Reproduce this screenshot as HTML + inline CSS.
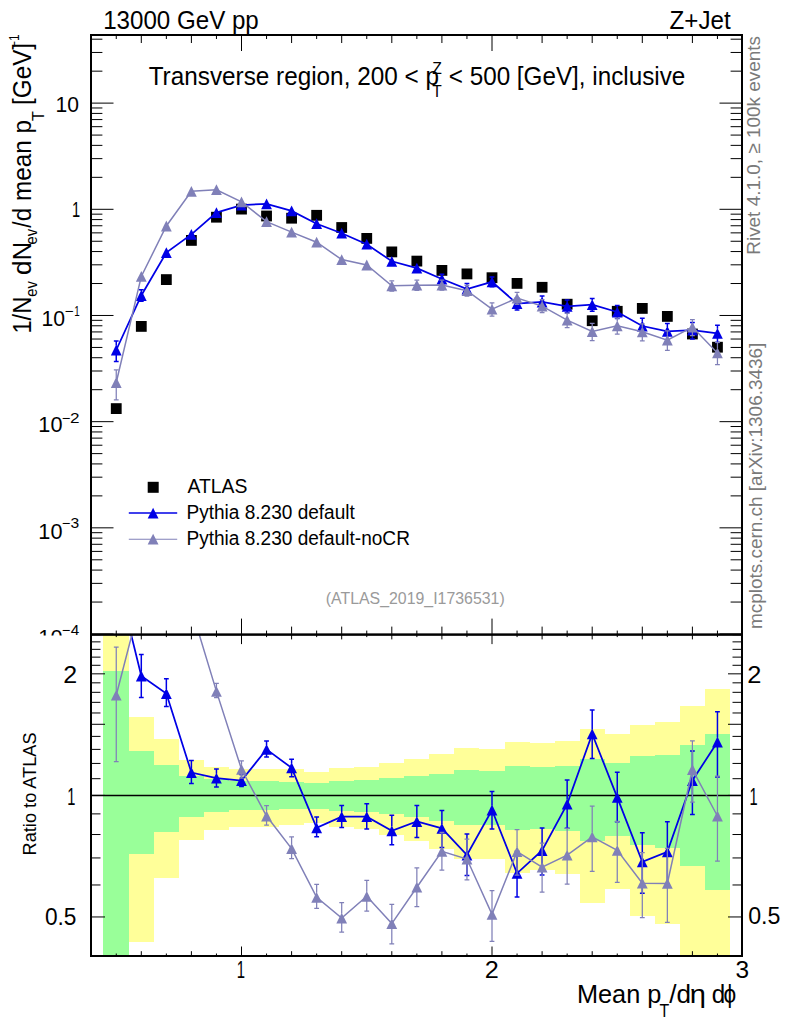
<!DOCTYPE html><html><head><meta charset="utf-8"><style>html,body{margin:0;padding:0;background:#fff;overflow:hidden}svg{display:block}text{font-family:"Liberation Sans",sans-serif}</style></head><body>
<svg width="786" height="1024" viewBox="0 0 786 1024">
<rect width="786" height="1024" fill="#fff"/>
<defs><clipPath id="cr"><rect x="91" y="634.6" width="651" height="321.4"/></clipPath>
<clipPath id="cm"><rect x="91" y="35" width="651" height="599.6"/></clipPath></defs>
<g clip-path="url(#cr)" shape-rendering="crispEdges">
<rect x="103.2" y="634.6" width="25.58" height="321.4" fill="#ffff99"/>
<rect x="103.2" y="670.6" width="25.58" height="285.4" fill="#99ff99"/>
<rect x="128.77" y="716.6" width="25.05" height="225.3" fill="#ffff99"/>
<rect x="128.77" y="751.2" width="25.05" height="102.7" fill="#99ff99"/>
<rect x="153.82" y="739.3" width="25.05" height="138.5" fill="#ffff99"/>
<rect x="153.82" y="765" width="25.05" height="67" fill="#99ff99"/>
<rect x="178.88" y="759.7" width="25.05" height="80.7" fill="#ffff99"/>
<rect x="178.88" y="776.1" width="25.05" height="40.6" fill="#99ff99"/>
<rect x="203.93" y="766.5" width="25.05" height="63.5" fill="#ffff99"/>
<rect x="203.93" y="779.4" width="25.05" height="32.7" fill="#99ff99"/>
<rect x="228.97" y="768.9" width="25.05" height="58" fill="#ffff99"/>
<rect x="228.97" y="780.8" width="25.05" height="29.6" fill="#99ff99"/>
<rect x="254.03" y="768.9" width="25.05" height="57.6" fill="#ffff99"/>
<rect x="254.03" y="781.1" width="25.05" height="29" fill="#99ff99"/>
<rect x="279.07" y="768.9" width="25.05" height="56.4" fill="#ffff99"/>
<rect x="279.07" y="781.5" width="25.05" height="27.7" fill="#99ff99"/>
<rect x="304.12" y="771.8" width="25.05" height="50.9" fill="#ffff99"/>
<rect x="304.12" y="782.7" width="25.05" height="25.8" fill="#99ff99"/>
<rect x="329.17" y="767.9" width="25.05" height="59.3" fill="#ffff99"/>
<rect x="329.17" y="780.8" width="25.05" height="30" fill="#99ff99"/>
<rect x="354.22" y="767.1" width="25.05" height="62.2" fill="#ffff99"/>
<rect x="354.22" y="780.1" width="25.05" height="31.4" fill="#99ff99"/>
<rect x="379.27" y="763" width="25.05" height="72.2" fill="#ffff99"/>
<rect x="379.27" y="778" width="25.05" height="35.9" fill="#99ff99"/>
<rect x="404.32" y="759" width="25.05" height="81.7" fill="#ffff99"/>
<rect x="404.32" y="776" width="25.05" height="40.7" fill="#99ff99"/>
<rect x="429.38" y="754" width="25.05" height="94.9" fill="#ffff99"/>
<rect x="429.38" y="773.9" width="25.05" height="47" fill="#99ff99"/>
<rect x="454.42" y="748.1" width="25.05" height="111.3" fill="#ffff99"/>
<rect x="454.42" y="770.1" width="25.05" height="55" fill="#99ff99"/>
<rect x="479.47" y="748.9" width="25.05" height="110.2" fill="#ffff99"/>
<rect x="479.47" y="770.6" width="25.05" height="53.9" fill="#99ff99"/>
<rect x="504.53" y="741.6" width="25.05" height="131.4" fill="#ffff99"/>
<rect x="504.53" y="766.1" width="25.05" height="63.6" fill="#99ff99"/>
<rect x="529.58" y="742.7" width="25.05" height="127.5" fill="#ffff99"/>
<rect x="529.58" y="767.2" width="25.05" height="62.1" fill="#99ff99"/>
<rect x="554.62" y="741" width="25.05" height="132.8" fill="#ffff99"/>
<rect x="554.62" y="766" width="25.05" height="65.1" fill="#99ff99"/>
<rect x="579.68" y="729" width="25.05" height="173.6" fill="#ffff99"/>
<rect x="579.68" y="758.8" width="25.05" height="82.1" fill="#99ff99"/>
<rect x="604.73" y="734.4" width="25.05" height="154.7" fill="#ffff99"/>
<rect x="604.73" y="762.5" width="25.05" height="73.6" fill="#99ff99"/>
<rect x="629.78" y="724.6" width="25.05" height="190.9" fill="#ffff99"/>
<rect x="629.78" y="756" width="25.05" height="89.4" fill="#99ff99"/>
<rect x="654.83" y="722.4" width="25.05" height="201.4" fill="#ffff99"/>
<rect x="654.83" y="754.7" width="25.05" height="93.4" fill="#99ff99"/>
<rect x="679.88" y="706.2" width="25.05" height="249.8" fill="#ffff99"/>
<rect x="679.88" y="744.9" width="25.05" height="120.7" fill="#99ff99"/>
<rect x="704.93" y="688.9" width="25.05" height="267.1" fill="#ffff99"/>
<rect x="704.93" y="734.1" width="25.05" height="155.5" fill="#99ff99"/>
</g>
<line x1="91" y1="795.4" x2="742" y2="795.4" stroke="#000" stroke-width="1.5"/>
<g clip-path="url(#cr)">
<polyline points="116.25,573.9 141.3,676 166.35,693.5 191.4,772.5 216.45,778.2 241.5,780.5 266.55,749.4 291.6,767.9 316.65,827.9 341.7,816.7 366.75,816.7 391.8,830.8 416.85,821.5 441.9,828.4 466.95,855 492,810 517.05,873.3 542.1,850.5 567.15,804.1 592.2,733.9 617.25,797.4 642.3,861.8 667.35,851.8 692.4,780.5 717.45,742" fill="none" stroke="#0000e6" stroke-width="1.75" stroke-linejoin="miter"/>
<path d="M141.3 671.5V654.4M138.9 654.4H143.7M141.3 680.5V697.6M138.9 697.6H143.7" stroke="#0000e6" stroke-width="1.5" fill="none"/>
<path d="M166.35 689V678.8M163.95 678.8H168.75M166.35 698V706.5M163.95 706.5H168.75" stroke="#0000e6" stroke-width="1.5" fill="none"/>
<path d="M191.4 768V760.6M189 760.6H193.8M191.4 777V783.4M189 783.4H193.8" stroke="#0000e6" stroke-width="1.5" fill="none"/>
<path d="M216.45 773.7V769M214.05 769H218.85M216.45 782.7V786.9M214.05 786.9H218.85" stroke="#0000e6" stroke-width="1.5" fill="none"/>
<path d="M241.5 776V774.5M239.1 774.5H243.9M241.5 785V786.5M239.1 786.5H243.9" stroke="#0000e6" stroke-width="1.5" fill="none"/>
<path d="M266.55 744.9V741M264.15 741H268.95M266.55 753.9V757.1M264.15 757.1H268.95" stroke="#0000e6" stroke-width="1.5" fill="none"/>
<path d="M291.6 763.4V759.2M289.2 759.2H294M291.6 772.4V776.7M289.2 776.7H294" stroke="#0000e6" stroke-width="1.5" fill="none"/>
<path d="M316.65 823.4V817.1M314.25 817.1H319.05M316.65 832.4V836.7M314.25 836.7H319.05" stroke="#0000e6" stroke-width="1.5" fill="none"/>
<path d="M341.7 812.2V805.5M339.3 805.5H344.1M341.7 821.2V827.5M339.3 827.5H344.1" stroke="#0000e6" stroke-width="1.5" fill="none"/>
<path d="M366.75 812.2V803.7M364.35 803.7H369.15M366.75 821.2V828.9M364.35 828.9H369.15" stroke="#0000e6" stroke-width="1.5" fill="none"/>
<path d="M391.8 826.3V815.3M389.4 815.3H394.2M391.8 835.3V844.8M389.4 844.8H394.2" stroke="#0000e6" stroke-width="1.5" fill="none"/>
<path d="M416.85 817V805.5M414.45 805.5H419.25M416.85 826V837.4M414.45 837.4H419.25" stroke="#0000e6" stroke-width="1.5" fill="none"/>
<path d="M441.9 823.9V810.4M439.5 810.4H444.3M441.9 832.9V847.4M439.5 847.4H444.3" stroke="#0000e6" stroke-width="1.5" fill="none"/>
<path d="M466.95 850.5V834M464.55 834H469.35M466.95 859.5V875.4M464.55 875.4H469.35" stroke="#0000e6" stroke-width="1.5" fill="none"/>
<path d="M492 805.5V791.5M489.6 791.5H494.4M492 814.5V829M489.6 829H494.4" stroke="#0000e6" stroke-width="1.5" fill="none"/>
<path d="M517.05 868.8V851.3M514.65 851.3H519.45M517.05 877.8V897M514.65 897H519.45" stroke="#0000e6" stroke-width="1.5" fill="none"/>
<path d="M542.1 846V827.9M539.7 827.9H544.5M542.1 855V874.9M539.7 874.9H544.5" stroke="#0000e6" stroke-width="1.5" fill="none"/>
<path d="M567.15 799.6V780M564.75 780H569.55M567.15 808.6V828.3M564.75 828.3H569.55" stroke="#0000e6" stroke-width="1.5" fill="none"/>
<path d="M592.2 729.4V710.1M589.8 710.1H594.6M592.2 738.4V758.5M589.8 758.5H594.6" stroke="#0000e6" stroke-width="1.5" fill="none"/>
<path d="M617.25 792.9V772.3M614.85 772.3H619.65M617.25 801.9V821.7M614.85 821.7H619.65" stroke="#0000e6" stroke-width="1.5" fill="none"/>
<path d="M642.3 857.3V832.8M639.9 832.8H644.7M642.3 866.3V893.3M639.9 893.3H644.7" stroke="#0000e6" stroke-width="1.5" fill="none"/>
<path d="M667.35 847.3V821.7M664.95 821.7H669.75M667.35 856.3V883.8M664.95 883.8H669.75" stroke="#0000e6" stroke-width="1.5" fill="none"/>
<path d="M692.4 776V751M690 751H694.8M692.4 785V814.4M690 814.4H694.8" stroke="#0000e6" stroke-width="1.5" fill="none"/>
<path d="M717.45 737.5V711.7M715.05 711.7H719.85M717.45 746.5V776.9M715.05 776.9H719.85" stroke="#0000e6" stroke-width="1.5" fill="none"/>
<path d="M110.85 579.3L116.25 568.5L121.65 579.3Z" fill="#0000e6"/>
<path d="M135.9 681.4L141.3 670.6L146.7 681.4Z" fill="#0000e6"/>
<path d="M160.95 698.9L166.35 688.1L171.75 698.9Z" fill="#0000e6"/>
<path d="M186 777.9L191.4 767.1L196.8 777.9Z" fill="#0000e6"/>
<path d="M211.05 783.6L216.45 772.8L221.85 783.6Z" fill="#0000e6"/>
<path d="M236.1 785.9L241.5 775.1L246.9 785.9Z" fill="#0000e6"/>
<path d="M261.15 754.8L266.55 744L271.95 754.8Z" fill="#0000e6"/>
<path d="M286.2 773.3L291.6 762.5L297 773.3Z" fill="#0000e6"/>
<path d="M311.25 833.3L316.65 822.5L322.05 833.3Z" fill="#0000e6"/>
<path d="M336.3 822.1L341.7 811.3L347.1 822.1Z" fill="#0000e6"/>
<path d="M361.35 822.1L366.75 811.3L372.15 822.1Z" fill="#0000e6"/>
<path d="M386.4 836.2L391.8 825.4L397.2 836.2Z" fill="#0000e6"/>
<path d="M411.45 826.9L416.85 816.1L422.25 826.9Z" fill="#0000e6"/>
<path d="M436.5 833.8L441.9 823L447.3 833.8Z" fill="#0000e6"/>
<path d="M461.55 860.4L466.95 849.6L472.35 860.4Z" fill="#0000e6"/>
<path d="M486.6 815.4L492 804.6L497.4 815.4Z" fill="#0000e6"/>
<path d="M511.65 878.7L517.05 867.9L522.45 878.7Z" fill="#0000e6"/>
<path d="M536.7 855.9L542.1 845.1L547.5 855.9Z" fill="#0000e6"/>
<path d="M561.75 809.5L567.15 798.7L572.55 809.5Z" fill="#0000e6"/>
<path d="M586.8 739.3L592.2 728.5L597.6 739.3Z" fill="#0000e6"/>
<path d="M611.85 802.8L617.25 792L622.65 802.8Z" fill="#0000e6"/>
<path d="M636.9 867.2L642.3 856.4L647.7 867.2Z" fill="#0000e6"/>
<path d="M661.95 857.2L667.35 846.4L672.75 857.2Z" fill="#0000e6"/>
<path d="M687 785.9L692.4 775.1L697.8 785.9Z" fill="#0000e6"/>
<path d="M712.05 747.4L717.45 736.6L722.85 747.4Z" fill="#0000e6"/>
</g>
<g clip-path="url(#cr)">
<polyline points="116.25,695.2 141.3,598.4 166.35,591.6 191.4,608.7 216.45,691.4 241.5,769.3 266.55,816 291.6,848.6 316.65,897.3 341.7,918.1 366.75,896.3 391.8,923.6 416.85,887.2 441.9,851.3 466.95,859 492,914.3 517.05,851.7 542.1,867.2 567.15,855.2 592.2,836.8 617.25,850.3 642.3,883.2 667.35,883.4 692.4,769.5 717.45,816" fill="none" stroke="#8080b8" stroke-width="1.5" stroke-linejoin="miter"/>
<path d="M116.25 690.7V647.1M113.85 647.1H118.65M116.25 699.7V761.7M113.85 761.7H118.65" stroke="#8080b8" stroke-width="1.25" fill="none"/>
<path d="M216.45 686.9V683.3M214.05 683.3H218.85M216.45 695.9V697.7M214.05 697.7H218.85" stroke="#8080b8" stroke-width="1.25" fill="none"/>
<path d="M241.5 764.8V760.9M239.1 760.9H243.9M241.5 773.8V778.1M239.1 778.1H243.9" stroke="#8080b8" stroke-width="1.25" fill="none"/>
<path d="M266.55 811.5V805.5M264.15 805.5H268.95M266.55 820.5V825.1M264.15 825.1H268.95" stroke="#8080b8" stroke-width="1.25" fill="none"/>
<path d="M291.6 844.1V836.8M289.2 836.8H294M291.6 853.1V858.7M289.2 858.7H294" stroke="#8080b8" stroke-width="1.25" fill="none"/>
<path d="M316.65 892.8V884.3M314.25 884.3H319.05M316.65 901.8V908.4M314.25 908.4H319.05" stroke="#8080b8" stroke-width="1.25" fill="none"/>
<path d="M341.7 913.6V902.6M339.3 902.6H344.1M341.7 922.6V932.2M339.3 932.2H344.1" stroke="#8080b8" stroke-width="1.25" fill="none"/>
<path d="M366.75 891.8V880.3M364.35 880.3H369.15M366.75 900.8V911.2M364.35 911.2H369.15" stroke="#8080b8" stroke-width="1.25" fill="none"/>
<path d="M391.8 919.1V904.4M389.4 904.4H394.2M391.8 928.1V943.8M389.4 943.8H394.2" stroke="#8080b8" stroke-width="1.25" fill="none"/>
<path d="M416.85 882.7V867.8M414.45 867.8H419.25M416.85 891.7V906.6M414.45 906.6H419.25" stroke="#8080b8" stroke-width="1.25" fill="none"/>
<path d="M441.9 846.8V832.3M439.5 832.3H444.3M441.9 855.8V870.1M439.5 870.1H444.3" stroke="#8080b8" stroke-width="1.25" fill="none"/>
<path d="M466.95 854.5V839M464.55 839H469.35M466.95 863.5V879.9M464.55 879.9H469.35" stroke="#8080b8" stroke-width="1.25" fill="none"/>
<path d="M492 909.8V890.6M489.6 890.6H494.4M492 918.8V941.3M489.6 941.3H494.4" stroke="#8080b8" stroke-width="1.25" fill="none"/>
<path d="M517.05 847.2V829.7M514.65 829.7H519.45M517.05 856.2V875.2M514.65 875.2H519.45" stroke="#8080b8" stroke-width="1.25" fill="none"/>
<path d="M542.1 862.7V843M539.7 843H544.5M542.1 871.7V892.2M539.7 892.2H544.5" stroke="#8080b8" stroke-width="1.25" fill="none"/>
<path d="M567.15 850.7V828.3M564.75 828.3H569.55M567.15 859.7V884.1M564.75 884.1H569.55" stroke="#8080b8" stroke-width="1.25" fill="none"/>
<path d="M592.2 832.3V806.2M589.8 806.2H594.6M592.2 841.3V871.4M589.8 871.4H594.6" stroke="#8080b8" stroke-width="1.25" fill="none"/>
<path d="M617.25 845.8V821.4M614.85 821.4H619.65M617.25 854.8V882.3M614.85 882.3H619.65" stroke="#8080b8" stroke-width="1.25" fill="none"/>
<path d="M642.3 878.7V852.7M639.9 852.7H644.7M642.3 887.7V917.7M639.9 917.7H644.7" stroke="#8080b8" stroke-width="1.25" fill="none"/>
<path d="M667.35 878.9V848.4M664.95 848.4H669.75M667.35 887.9V922.3M664.95 922.3H669.75" stroke="#8080b8" stroke-width="1.25" fill="none"/>
<path d="M692.4 765V740.9M690 740.9H694.8M692.4 774V802M690 802H694.8" stroke="#8080b8" stroke-width="1.25" fill="none"/>
<path d="M717.45 811.5V776M715.05 776H719.85M717.45 820.5V861M715.05 861H719.85" stroke="#8080b8" stroke-width="1.25" fill="none"/>
<path d="M110.85 700.6L116.25 689.8L121.65 700.6Z" fill="#8080b8"/>
<path d="M135.9 603.8L141.3 593L146.7 603.8Z" fill="#8080b8"/>
<path d="M160.95 597L166.35 586.2L171.75 597Z" fill="#8080b8"/>
<path d="M186 614.1L191.4 603.3L196.8 614.1Z" fill="#8080b8"/>
<path d="M211.05 696.8L216.45 686L221.85 696.8Z" fill="#8080b8"/>
<path d="M236.1 774.7L241.5 763.9L246.9 774.7Z" fill="#8080b8"/>
<path d="M261.15 821.4L266.55 810.6L271.95 821.4Z" fill="#8080b8"/>
<path d="M286.2 854L291.6 843.2L297 854Z" fill="#8080b8"/>
<path d="M311.25 902.7L316.65 891.9L322.05 902.7Z" fill="#8080b8"/>
<path d="M336.3 923.5L341.7 912.7L347.1 923.5Z" fill="#8080b8"/>
<path d="M361.35 901.7L366.75 890.9L372.15 901.7Z" fill="#8080b8"/>
<path d="M386.4 929L391.8 918.2L397.2 929Z" fill="#8080b8"/>
<path d="M411.45 892.6L416.85 881.8L422.25 892.6Z" fill="#8080b8"/>
<path d="M436.5 856.7L441.9 845.9L447.3 856.7Z" fill="#8080b8"/>
<path d="M461.55 864.4L466.95 853.6L472.35 864.4Z" fill="#8080b8"/>
<path d="M486.6 919.7L492 908.9L497.4 919.7Z" fill="#8080b8"/>
<path d="M511.65 857.1L517.05 846.3L522.45 857.1Z" fill="#8080b8"/>
<path d="M536.7 872.6L542.1 861.8L547.5 872.6Z" fill="#8080b8"/>
<path d="M561.75 860.6L567.15 849.8L572.55 860.6Z" fill="#8080b8"/>
<path d="M586.8 842.2L592.2 831.4L597.6 842.2Z" fill="#8080b8"/>
<path d="M611.85 855.7L617.25 844.9L622.65 855.7Z" fill="#8080b8"/>
<path d="M636.9 888.6L642.3 877.8L647.7 888.6Z" fill="#8080b8"/>
<path d="M661.95 888.8L667.35 878L672.75 888.8Z" fill="#8080b8"/>
<path d="M687 774.9L692.4 764.1L697.8 774.9Z" fill="#8080b8"/>
<path d="M712.05 821.4L717.45 810.6L722.85 821.4Z" fill="#8080b8"/>
</g>
<g clip-path="url(#cm)">
<rect x="110.85" y="403.2" width="10.8" height="10.8" fill="#000"/>
<rect x="135.9" y="321" width="10.8" height="10.8" fill="#000"/>
<rect x="160.95" y="274.2" width="10.8" height="10.8" fill="#000"/>
<rect x="186" y="235" width="10.8" height="10.8" fill="#000"/>
<rect x="211.05" y="211.8" width="10.8" height="10.8" fill="#000"/>
<rect x="236.1" y="203.7" width="10.8" height="10.8" fill="#000"/>
<rect x="261.15" y="210.6" width="10.8" height="10.8" fill="#000"/>
<rect x="286.2" y="212.8" width="10.8" height="10.8" fill="#000"/>
<rect x="311.25" y="209.9" width="10.8" height="10.8" fill="#000"/>
<rect x="336.3" y="222.1" width="10.8" height="10.8" fill="#000"/>
<rect x="361.35" y="233" width="10.8" height="10.8" fill="#000"/>
<rect x="386.4" y="246.5" width="10.8" height="10.8" fill="#000"/>
<rect x="411.45" y="255.7" width="10.8" height="10.8" fill="#000"/>
<rect x="436.5" y="265" width="10.8" height="10.8" fill="#000"/>
<rect x="461.55" y="268.5" width="10.8" height="10.8" fill="#000"/>
<rect x="486.6" y="272.3" width="10.8" height="10.8" fill="#000"/>
<rect x="511.65" y="278" width="10.8" height="10.8" fill="#000"/>
<rect x="536.7" y="281.9" width="10.8" height="10.8" fill="#000"/>
<rect x="561.75" y="298.8" width="10.8" height="10.8" fill="#000"/>
<rect x="586.8" y="315.3" width="10.8" height="10.8" fill="#000"/>
<rect x="611.85" y="305.9" width="10.8" height="10.8" fill="#000"/>
<rect x="636.9" y="303" width="10.8" height="10.8" fill="#000"/>
<rect x="661.95" y="311" width="10.8" height="10.8" fill="#000"/>
<rect x="687" y="328.6" width="10.8" height="10.8" fill="#000"/>
<rect x="712.05" y="341.8" width="10.8" height="10.8" fill="#000"/>
</g>
<g clip-path="url(#cm)">
<polyline points="116.25,350 141.3,295.5 166.35,252.6 191.4,234.4 216.45,212.6 241.5,205.1 266.55,203.8 291.6,210.9 316.65,223.7 341.7,233.2 366.75,244.2 391.8,261.3 416.85,268.1 441.9,279 466.95,289 492,281.8 517.05,303.7 542.1,302 567.15,306.3 592.2,304.7 617.25,312 642.3,326 667.35,331.4 692.4,330.2 717.45,333.3" fill="none" stroke="#0000e6" stroke-width="1.75" stroke-linejoin="miter"/>
<path d="M116.25 345.5V341M113.85 341H118.65M116.25 354.5V361.5M113.85 361.5H118.65" stroke="#0000e6" stroke-width="1.5" fill="none"/>
<path d="M141.3 291V289.82M138.9 289.82H143.7M141.3 300V301.18M138.9 301.18H143.7" stroke="#0000e6" stroke-width="1.5" fill="none"/>











<path d="M441.9 274.5V274.27M439.5 274.27H444.3M441.9 283.5V284M439.5 284H444.3" stroke="#0000e6" stroke-width="1.5" fill="none"/>
<path d="M466.95 284.5V283.48M464.55 283.48H469.35M466.95 293.5V294.36M464.55 294.36H469.35" stroke="#0000e6" stroke-width="1.5" fill="none"/>
<path d="M492 277.3V276.94M489.6 276.94H494.4M492 286.3V286.8M489.6 286.8H494.4" stroke="#0000e6" stroke-width="1.5" fill="none"/>
<path d="M517.05 299.2V297.92M514.65 297.92H519.45M517.05 308.2V309.93M514.65 309.93H519.45" stroke="#0000e6" stroke-width="1.5" fill="none"/>
<path d="M542.1 297.5V296.06M539.7 296.06H544.5M542.1 306.5V308.42M539.7 308.42H544.5" stroke="#0000e6" stroke-width="1.5" fill="none"/>
<path d="M567.15 301.8V299.96M564.75 299.96H569.55M567.15 310.8V312.66M564.75 312.66H569.55" stroke="#0000e6" stroke-width="1.5" fill="none"/>
<path d="M592.2 300.2V298.44M589.8 298.44H594.6M592.2 309.2V311.17M589.8 311.17H594.6" stroke="#0000e6" stroke-width="1.5" fill="none"/>
<path d="M617.25 307.5V305.4M614.85 305.4H619.65M617.25 316.5V318.39M614.85 318.39H619.65" stroke="#0000e6" stroke-width="1.5" fill="none"/>
<path d="M642.3 321.5V318.37M639.9 318.37H644.7M642.3 330.5V334.28M639.9 334.28H644.7" stroke="#0000e6" stroke-width="1.5" fill="none"/>
<path d="M667.35 326.9V323.49M664.95 323.49H669.75M667.35 335.9V339.81M664.95 339.81H669.75" stroke="#0000e6" stroke-width="1.5" fill="none"/>
<path d="M692.4 325.7V322.44M690 322.44H694.8M692.4 334.7V339.11M690 339.11H694.8" stroke="#0000e6" stroke-width="1.5" fill="none"/>
<path d="M717.45 328.8V325.33M715.05 325.33H719.85M717.45 337.8V342.48M715.05 342.48H719.85" stroke="#0000e6" stroke-width="1.5" fill="none"/>
<path d="M110.85 355.4L116.25 344.6L121.65 355.4Z" fill="#0000e6"/>
<path d="M135.9 300.9L141.3 290.1L146.7 300.9Z" fill="#0000e6"/>
<path d="M160.95 258L166.35 247.2L171.75 258Z" fill="#0000e6"/>
<path d="M186 239.8L191.4 229L196.8 239.8Z" fill="#0000e6"/>
<path d="M211.05 218L216.45 207.2L221.85 218Z" fill="#0000e6"/>
<path d="M236.1 210.5L241.5 199.7L246.9 210.5Z" fill="#0000e6"/>
<path d="M261.15 209.2L266.55 198.4L271.95 209.2Z" fill="#0000e6"/>
<path d="M286.2 216.3L291.6 205.5L297 216.3Z" fill="#0000e6"/>
<path d="M311.25 229.1L316.65 218.3L322.05 229.1Z" fill="#0000e6"/>
<path d="M336.3 238.6L341.7 227.8L347.1 238.6Z" fill="#0000e6"/>
<path d="M361.35 249.6L366.75 238.8L372.15 249.6Z" fill="#0000e6"/>
<path d="M386.4 266.7L391.8 255.9L397.2 266.7Z" fill="#0000e6"/>
<path d="M411.45 273.5L416.85 262.7L422.25 273.5Z" fill="#0000e6"/>
<path d="M436.5 284.4L441.9 273.6L447.3 284.4Z" fill="#0000e6"/>
<path d="M461.55 294.4L466.95 283.6L472.35 294.4Z" fill="#0000e6"/>
<path d="M486.6 287.2L492 276.4L497.4 287.2Z" fill="#0000e6"/>
<path d="M511.65 309.1L517.05 298.3L522.45 309.1Z" fill="#0000e6"/>
<path d="M536.7 307.4L542.1 296.6L547.5 307.4Z" fill="#0000e6"/>
<path d="M561.75 311.7L567.15 300.9L572.55 311.7Z" fill="#0000e6"/>
<path d="M586.8 310.1L592.2 299.3L597.6 310.1Z" fill="#0000e6"/>
<path d="M611.85 317.4L617.25 306.6L622.65 317.4Z" fill="#0000e6"/>
<path d="M636.9 331.4L642.3 320.6L647.7 331.4Z" fill="#0000e6"/>
<path d="M661.95 336.8L667.35 326L672.75 336.8Z" fill="#0000e6"/>
<path d="M687 335.6L692.4 324.8L697.8 335.6Z" fill="#0000e6"/>
<path d="M712.05 338.7L717.45 327.9L722.85 338.7Z" fill="#0000e6"/>
</g>
<g clip-path="url(#cm)">
<polyline points="116.25,382.5 141.3,276.4 166.35,226 191.4,191.3 216.45,189.7 241.5,201.8 266.55,221.6 291.6,232.1 316.65,242.2 341.7,259.6 366.75,265 391.8,285.8 416.85,285.2 441.9,285.1 466.95,290.7 492,309.1 517.05,298.1 542.1,306.1 567.15,320.1 592.2,331.5 617.25,325.8 642.3,331.8 667.35,340.1 692.4,327.1 717.45,352.9" fill="none" stroke="#8080b8" stroke-width="1.5" stroke-linejoin="miter"/>
<path d="M116.25 378V369.85M113.85 369.85H118.65M116.25 387V399.99M113.85 399.99H118.65" stroke="#8080b8" stroke-width="1.25" fill="none"/>








<path d="M391.8 281.3V280.75M389.4 280.75H394.2M391.8 290.3V291.11M389.4 291.11H394.2" stroke="#8080b8" stroke-width="1.25" fill="none"/>
<path d="M416.85 280.7V280.1M414.45 280.1H419.25M416.85 289.7V290.3M414.45 290.3H419.25" stroke="#8080b8" stroke-width="1.25" fill="none"/>
<path d="M441.9 280.6V280.1M439.5 280.1H444.3M441.9 289.6V290.04M439.5 290.04H444.3" stroke="#8080b8" stroke-width="1.25" fill="none"/>
<path d="M466.95 286.2V285.44M464.55 285.44H469.35M466.95 295.2V296.2M464.55 296.2H469.35" stroke="#8080b8" stroke-width="1.25" fill="none"/>
<path d="M492 304.6V302.87M489.6 302.87H494.4M492 313.6V316.2M489.6 316.2H494.4" stroke="#8080b8" stroke-width="1.25" fill="none"/>
<path d="M517.05 293.6V292.32M514.65 292.32H519.45M517.05 302.6V304.28M514.65 304.28H519.45" stroke="#8080b8" stroke-width="1.25" fill="none"/>
<path d="M542.1 301.6V299.74M539.7 299.74H544.5M542.1 310.6V312.67M539.7 312.67H544.5" stroke="#8080b8" stroke-width="1.25" fill="none"/>
<path d="M567.15 315.6V313.03M564.75 313.03H569.55M567.15 324.6V327.7M564.75 327.7H569.55" stroke="#8080b8" stroke-width="1.25" fill="none"/>
<path d="M592.2 327V323.45M589.8 323.45H594.6M592.2 336V340.6M589.8 340.6H594.6" stroke="#8080b8" stroke-width="1.25" fill="none"/>
<path d="M617.25 321.3V318.2M614.85 318.2H619.65M617.25 330.3V334.21M614.85 334.21H619.65" stroke="#8080b8" stroke-width="1.25" fill="none"/>
<path d="M642.3 327.3V323.78M639.9 323.78H644.7M642.3 336.3V340.87M639.9 340.87H644.7" stroke="#8080b8" stroke-width="1.25" fill="none"/>
<path d="M667.35 335.6V330.9M664.95 330.9H669.75M667.35 344.6V350.33M664.95 350.33H669.75" stroke="#8080b8" stroke-width="1.25" fill="none"/>
<path d="M692.4 322.6V319.58M690 319.58H694.8M692.4 331.6V335.65M690 335.65H694.8" stroke="#8080b8" stroke-width="1.25" fill="none"/>
<path d="M717.45 348.4V342.38M715.05 342.38H719.85M717.45 357.4V364.73M715.05 364.73H719.85" stroke="#8080b8" stroke-width="1.25" fill="none"/>
<path d="M110.85 387.9L116.25 377.1L121.65 387.9Z" fill="#8080b8"/>
<path d="M135.9 281.8L141.3 271L146.7 281.8Z" fill="#8080b8"/>
<path d="M160.95 231.4L166.35 220.6L171.75 231.4Z" fill="#8080b8"/>
<path d="M186 196.7L191.4 185.9L196.8 196.7Z" fill="#8080b8"/>
<path d="M211.05 195.1L216.45 184.3L221.85 195.1Z" fill="#8080b8"/>
<path d="M236.1 207.2L241.5 196.4L246.9 207.2Z" fill="#8080b8"/>
<path d="M261.15 227L266.55 216.2L271.95 227Z" fill="#8080b8"/>
<path d="M286.2 237.5L291.6 226.7L297 237.5Z" fill="#8080b8"/>
<path d="M311.25 247.6L316.65 236.8L322.05 247.6Z" fill="#8080b8"/>
<path d="M336.3 265L341.7 254.2L347.1 265Z" fill="#8080b8"/>
<path d="M361.35 270.4L366.75 259.6L372.15 270.4Z" fill="#8080b8"/>
<path d="M386.4 291.2L391.8 280.4L397.2 291.2Z" fill="#8080b8"/>
<path d="M411.45 290.6L416.85 279.8L422.25 290.6Z" fill="#8080b8"/>
<path d="M436.5 290.5L441.9 279.7L447.3 290.5Z" fill="#8080b8"/>
<path d="M461.55 296.1L466.95 285.3L472.35 296.1Z" fill="#8080b8"/>
<path d="M486.6 314.5L492 303.7L497.4 314.5Z" fill="#8080b8"/>
<path d="M511.65 303.5L517.05 292.7L522.45 303.5Z" fill="#8080b8"/>
<path d="M536.7 311.5L542.1 300.7L547.5 311.5Z" fill="#8080b8"/>
<path d="M561.75 325.5L567.15 314.7L572.55 325.5Z" fill="#8080b8"/>
<path d="M586.8 336.9L592.2 326.1L597.6 336.9Z" fill="#8080b8"/>
<path d="M611.85 331.2L617.25 320.4L622.65 331.2Z" fill="#8080b8"/>
<path d="M636.9 337.2L642.3 326.4L647.7 337.2Z" fill="#8080b8"/>
<path d="M661.95 345.5L667.35 334.7L672.75 345.5Z" fill="#8080b8"/>
<path d="M687 332.5L692.4 321.7L697.8 332.5Z" fill="#8080b8"/>
<path d="M712.05 358.3L717.45 347.5L722.85 358.3Z" fill="#8080b8"/>
</g>
<line x1="116.25" y1="35" x2="116.25" y2="39" stroke="#000" stroke-width="1"/>
<line x1="116.25" y1="634.6" x2="116.25" y2="630.6" stroke="#000" stroke-width="1"/>
<line x1="116.25" y1="634.6" x2="116.25" y2="637.1" stroke="#000" stroke-width="1"/>
<line x1="116.25" y1="956" x2="116.25" y2="953.5" stroke="#000" stroke-width="1"/>
<line x1="141.3" y1="35" x2="141.3" y2="43" stroke="#000" stroke-width="1"/>
<line x1="141.3" y1="634.6" x2="141.3" y2="626.6" stroke="#000" stroke-width="1"/>
<line x1="141.3" y1="634.6" x2="141.3" y2="639.4" stroke="#000" stroke-width="1"/>
<line x1="141.3" y1="956" x2="141.3" y2="951.2" stroke="#000" stroke-width="1"/>
<line x1="166.35" y1="35" x2="166.35" y2="39" stroke="#000" stroke-width="1"/>
<line x1="166.35" y1="634.6" x2="166.35" y2="630.6" stroke="#000" stroke-width="1"/>
<line x1="166.35" y1="634.6" x2="166.35" y2="637.1" stroke="#000" stroke-width="1"/>
<line x1="166.35" y1="956" x2="166.35" y2="953.5" stroke="#000" stroke-width="1"/>
<line x1="191.4" y1="35" x2="191.4" y2="43" stroke="#000" stroke-width="1"/>
<line x1="191.4" y1="634.6" x2="191.4" y2="626.6" stroke="#000" stroke-width="1"/>
<line x1="191.4" y1="634.6" x2="191.4" y2="639.4" stroke="#000" stroke-width="1"/>
<line x1="191.4" y1="956" x2="191.4" y2="951.2" stroke="#000" stroke-width="1"/>
<line x1="216.45" y1="35" x2="216.45" y2="39" stroke="#000" stroke-width="1"/>
<line x1="216.45" y1="634.6" x2="216.45" y2="630.6" stroke="#000" stroke-width="1"/>
<line x1="216.45" y1="634.6" x2="216.45" y2="637.1" stroke="#000" stroke-width="1"/>
<line x1="216.45" y1="956" x2="216.45" y2="953.5" stroke="#000" stroke-width="1"/>
<line x1="241.5" y1="35" x2="241.5" y2="51" stroke="#000" stroke-width="1"/>
<line x1="241.5" y1="634.6" x2="241.5" y2="618.6" stroke="#000" stroke-width="1"/>
<line x1="241.5" y1="634.6" x2="241.5" y2="644.1" stroke="#000" stroke-width="1"/>
<line x1="241.5" y1="956" x2="241.5" y2="946.5" stroke="#000" stroke-width="1"/>
<line x1="266.55" y1="35" x2="266.55" y2="39" stroke="#000" stroke-width="1"/>
<line x1="266.55" y1="634.6" x2="266.55" y2="630.6" stroke="#000" stroke-width="1"/>
<line x1="266.55" y1="634.6" x2="266.55" y2="637.1" stroke="#000" stroke-width="1"/>
<line x1="266.55" y1="956" x2="266.55" y2="953.5" stroke="#000" stroke-width="1"/>
<line x1="291.6" y1="35" x2="291.6" y2="43" stroke="#000" stroke-width="1"/>
<line x1="291.6" y1="634.6" x2="291.6" y2="626.6" stroke="#000" stroke-width="1"/>
<line x1="291.6" y1="634.6" x2="291.6" y2="639.4" stroke="#000" stroke-width="1"/>
<line x1="291.6" y1="956" x2="291.6" y2="951.2" stroke="#000" stroke-width="1"/>
<line x1="316.65" y1="35" x2="316.65" y2="39" stroke="#000" stroke-width="1"/>
<line x1="316.65" y1="634.6" x2="316.65" y2="630.6" stroke="#000" stroke-width="1"/>
<line x1="316.65" y1="634.6" x2="316.65" y2="637.1" stroke="#000" stroke-width="1"/>
<line x1="316.65" y1="956" x2="316.65" y2="953.5" stroke="#000" stroke-width="1"/>
<line x1="341.7" y1="35" x2="341.7" y2="43" stroke="#000" stroke-width="1"/>
<line x1="341.7" y1="634.6" x2="341.7" y2="626.6" stroke="#000" stroke-width="1"/>
<line x1="341.7" y1="634.6" x2="341.7" y2="639.4" stroke="#000" stroke-width="1"/>
<line x1="341.7" y1="956" x2="341.7" y2="951.2" stroke="#000" stroke-width="1"/>
<line x1="366.75" y1="35" x2="366.75" y2="39" stroke="#000" stroke-width="1"/>
<line x1="366.75" y1="634.6" x2="366.75" y2="630.6" stroke="#000" stroke-width="1"/>
<line x1="366.75" y1="634.6" x2="366.75" y2="637.1" stroke="#000" stroke-width="1"/>
<line x1="366.75" y1="956" x2="366.75" y2="953.5" stroke="#000" stroke-width="1"/>
<line x1="391.8" y1="35" x2="391.8" y2="43" stroke="#000" stroke-width="1"/>
<line x1="391.8" y1="634.6" x2="391.8" y2="626.6" stroke="#000" stroke-width="1"/>
<line x1="391.8" y1="634.6" x2="391.8" y2="639.4" stroke="#000" stroke-width="1"/>
<line x1="391.8" y1="956" x2="391.8" y2="951.2" stroke="#000" stroke-width="1"/>
<line x1="416.85" y1="35" x2="416.85" y2="39" stroke="#000" stroke-width="1"/>
<line x1="416.85" y1="634.6" x2="416.85" y2="630.6" stroke="#000" stroke-width="1"/>
<line x1="416.85" y1="634.6" x2="416.85" y2="637.1" stroke="#000" stroke-width="1"/>
<line x1="416.85" y1="956" x2="416.85" y2="953.5" stroke="#000" stroke-width="1"/>
<line x1="441.9" y1="35" x2="441.9" y2="43" stroke="#000" stroke-width="1"/>
<line x1="441.9" y1="634.6" x2="441.9" y2="626.6" stroke="#000" stroke-width="1"/>
<line x1="441.9" y1="634.6" x2="441.9" y2="639.4" stroke="#000" stroke-width="1"/>
<line x1="441.9" y1="956" x2="441.9" y2="951.2" stroke="#000" stroke-width="1"/>
<line x1="466.95" y1="35" x2="466.95" y2="39" stroke="#000" stroke-width="1"/>
<line x1="466.95" y1="634.6" x2="466.95" y2="630.6" stroke="#000" stroke-width="1"/>
<line x1="466.95" y1="634.6" x2="466.95" y2="637.1" stroke="#000" stroke-width="1"/>
<line x1="466.95" y1="956" x2="466.95" y2="953.5" stroke="#000" stroke-width="1"/>
<line x1="492" y1="35" x2="492" y2="51" stroke="#000" stroke-width="1"/>
<line x1="492" y1="634.6" x2="492" y2="618.6" stroke="#000" stroke-width="1"/>
<line x1="492" y1="634.6" x2="492" y2="644.1" stroke="#000" stroke-width="1"/>
<line x1="492" y1="956" x2="492" y2="946.5" stroke="#000" stroke-width="1"/>
<line x1="517.05" y1="35" x2="517.05" y2="39" stroke="#000" stroke-width="1"/>
<line x1="517.05" y1="634.6" x2="517.05" y2="630.6" stroke="#000" stroke-width="1"/>
<line x1="517.05" y1="634.6" x2="517.05" y2="637.1" stroke="#000" stroke-width="1"/>
<line x1="517.05" y1="956" x2="517.05" y2="953.5" stroke="#000" stroke-width="1"/>
<line x1="542.1" y1="35" x2="542.1" y2="43" stroke="#000" stroke-width="1"/>
<line x1="542.1" y1="634.6" x2="542.1" y2="626.6" stroke="#000" stroke-width="1"/>
<line x1="542.1" y1="634.6" x2="542.1" y2="639.4" stroke="#000" stroke-width="1"/>
<line x1="542.1" y1="956" x2="542.1" y2="951.2" stroke="#000" stroke-width="1"/>
<line x1="567.15" y1="35" x2="567.15" y2="39" stroke="#000" stroke-width="1"/>
<line x1="567.15" y1="634.6" x2="567.15" y2="630.6" stroke="#000" stroke-width="1"/>
<line x1="567.15" y1="634.6" x2="567.15" y2="637.1" stroke="#000" stroke-width="1"/>
<line x1="567.15" y1="956" x2="567.15" y2="953.5" stroke="#000" stroke-width="1"/>
<line x1="592.2" y1="35" x2="592.2" y2="43" stroke="#000" stroke-width="1"/>
<line x1="592.2" y1="634.6" x2="592.2" y2="626.6" stroke="#000" stroke-width="1"/>
<line x1="592.2" y1="634.6" x2="592.2" y2="639.4" stroke="#000" stroke-width="1"/>
<line x1="592.2" y1="956" x2="592.2" y2="951.2" stroke="#000" stroke-width="1"/>
<line x1="617.25" y1="35" x2="617.25" y2="39" stroke="#000" stroke-width="1"/>
<line x1="617.25" y1="634.6" x2="617.25" y2="630.6" stroke="#000" stroke-width="1"/>
<line x1="617.25" y1="634.6" x2="617.25" y2="637.1" stroke="#000" stroke-width="1"/>
<line x1="617.25" y1="956" x2="617.25" y2="953.5" stroke="#000" stroke-width="1"/>
<line x1="642.3" y1="35" x2="642.3" y2="43" stroke="#000" stroke-width="1"/>
<line x1="642.3" y1="634.6" x2="642.3" y2="626.6" stroke="#000" stroke-width="1"/>
<line x1="642.3" y1="634.6" x2="642.3" y2="639.4" stroke="#000" stroke-width="1"/>
<line x1="642.3" y1="956" x2="642.3" y2="951.2" stroke="#000" stroke-width="1"/>
<line x1="667.35" y1="35" x2="667.35" y2="39" stroke="#000" stroke-width="1"/>
<line x1="667.35" y1="634.6" x2="667.35" y2="630.6" stroke="#000" stroke-width="1"/>
<line x1="667.35" y1="634.6" x2="667.35" y2="637.1" stroke="#000" stroke-width="1"/>
<line x1="667.35" y1="956" x2="667.35" y2="953.5" stroke="#000" stroke-width="1"/>
<line x1="692.4" y1="35" x2="692.4" y2="43" stroke="#000" stroke-width="1"/>
<line x1="692.4" y1="634.6" x2="692.4" y2="626.6" stroke="#000" stroke-width="1"/>
<line x1="692.4" y1="634.6" x2="692.4" y2="639.4" stroke="#000" stroke-width="1"/>
<line x1="692.4" y1="956" x2="692.4" y2="951.2" stroke="#000" stroke-width="1"/>
<line x1="717.45" y1="35" x2="717.45" y2="39" stroke="#000" stroke-width="1"/>
<line x1="717.45" y1="634.6" x2="717.45" y2="630.6" stroke="#000" stroke-width="1"/>
<line x1="717.45" y1="634.6" x2="717.45" y2="637.1" stroke="#000" stroke-width="1"/>
<line x1="717.45" y1="956" x2="717.45" y2="953.5" stroke="#000" stroke-width="1"/>
<line x1="91" y1="634.02" x2="113.5" y2="634.02" stroke="#000" stroke-width="1"/>
<line x1="742" y1="634.02" x2="719.5" y2="634.02" stroke="#000" stroke-width="1"/>
<line x1="91" y1="602.06" x2="102.4" y2="602.06" stroke="#000" stroke-width="1"/>
<line x1="742" y1="602.06" x2="730.6" y2="602.06" stroke="#000" stroke-width="1"/>
<line x1="91" y1="583.36" x2="102.4" y2="583.36" stroke="#000" stroke-width="1"/>
<line x1="742" y1="583.36" x2="730.6" y2="583.36" stroke="#000" stroke-width="1"/>
<line x1="91" y1="570.09" x2="102.4" y2="570.09" stroke="#000" stroke-width="1"/>
<line x1="742" y1="570.09" x2="730.6" y2="570.09" stroke="#000" stroke-width="1"/>
<line x1="91" y1="559.8" x2="102.4" y2="559.8" stroke="#000" stroke-width="1"/>
<line x1="742" y1="559.8" x2="730.6" y2="559.8" stroke="#000" stroke-width="1"/>
<line x1="91" y1="551.4" x2="102.4" y2="551.4" stroke="#000" stroke-width="1"/>
<line x1="742" y1="551.4" x2="730.6" y2="551.4" stroke="#000" stroke-width="1"/>
<line x1="91" y1="544.29" x2="102.4" y2="544.29" stroke="#000" stroke-width="1"/>
<line x1="742" y1="544.29" x2="730.6" y2="544.29" stroke="#000" stroke-width="1"/>
<line x1="91" y1="538.13" x2="102.4" y2="538.13" stroke="#000" stroke-width="1"/>
<line x1="742" y1="538.13" x2="730.6" y2="538.13" stroke="#000" stroke-width="1"/>
<line x1="91" y1="532.7" x2="102.4" y2="532.7" stroke="#000" stroke-width="1"/>
<line x1="742" y1="532.7" x2="730.6" y2="532.7" stroke="#000" stroke-width="1"/>
<line x1="91" y1="527.84" x2="113.5" y2="527.84" stroke="#000" stroke-width="1"/>
<line x1="742" y1="527.84" x2="719.5" y2="527.84" stroke="#000" stroke-width="1"/>
<line x1="91" y1="495.88" x2="102.4" y2="495.88" stroke="#000" stroke-width="1"/>
<line x1="742" y1="495.88" x2="730.6" y2="495.88" stroke="#000" stroke-width="1"/>
<line x1="91" y1="477.18" x2="102.4" y2="477.18" stroke="#000" stroke-width="1"/>
<line x1="742" y1="477.18" x2="730.6" y2="477.18" stroke="#000" stroke-width="1"/>
<line x1="91" y1="463.91" x2="102.4" y2="463.91" stroke="#000" stroke-width="1"/>
<line x1="742" y1="463.91" x2="730.6" y2="463.91" stroke="#000" stroke-width="1"/>
<line x1="91" y1="453.62" x2="102.4" y2="453.62" stroke="#000" stroke-width="1"/>
<line x1="742" y1="453.62" x2="730.6" y2="453.62" stroke="#000" stroke-width="1"/>
<line x1="91" y1="445.22" x2="102.4" y2="445.22" stroke="#000" stroke-width="1"/>
<line x1="742" y1="445.22" x2="730.6" y2="445.22" stroke="#000" stroke-width="1"/>
<line x1="91" y1="438.11" x2="102.4" y2="438.11" stroke="#000" stroke-width="1"/>
<line x1="742" y1="438.11" x2="730.6" y2="438.11" stroke="#000" stroke-width="1"/>
<line x1="91" y1="431.95" x2="102.4" y2="431.95" stroke="#000" stroke-width="1"/>
<line x1="742" y1="431.95" x2="730.6" y2="431.95" stroke="#000" stroke-width="1"/>
<line x1="91" y1="426.52" x2="102.4" y2="426.52" stroke="#000" stroke-width="1"/>
<line x1="742" y1="426.52" x2="730.6" y2="426.52" stroke="#000" stroke-width="1"/>
<line x1="91" y1="421.66" x2="113.5" y2="421.66" stroke="#000" stroke-width="1"/>
<line x1="742" y1="421.66" x2="719.5" y2="421.66" stroke="#000" stroke-width="1"/>
<line x1="91" y1="389.7" x2="102.4" y2="389.7" stroke="#000" stroke-width="1"/>
<line x1="742" y1="389.7" x2="730.6" y2="389.7" stroke="#000" stroke-width="1"/>
<line x1="91" y1="371" x2="102.4" y2="371" stroke="#000" stroke-width="1"/>
<line x1="742" y1="371" x2="730.6" y2="371" stroke="#000" stroke-width="1"/>
<line x1="91" y1="357.73" x2="102.4" y2="357.73" stroke="#000" stroke-width="1"/>
<line x1="742" y1="357.73" x2="730.6" y2="357.73" stroke="#000" stroke-width="1"/>
<line x1="91" y1="347.44" x2="102.4" y2="347.44" stroke="#000" stroke-width="1"/>
<line x1="742" y1="347.44" x2="730.6" y2="347.44" stroke="#000" stroke-width="1"/>
<line x1="91" y1="339.04" x2="102.4" y2="339.04" stroke="#000" stroke-width="1"/>
<line x1="742" y1="339.04" x2="730.6" y2="339.04" stroke="#000" stroke-width="1"/>
<line x1="91" y1="331.93" x2="102.4" y2="331.93" stroke="#000" stroke-width="1"/>
<line x1="742" y1="331.93" x2="730.6" y2="331.93" stroke="#000" stroke-width="1"/>
<line x1="91" y1="325.77" x2="102.4" y2="325.77" stroke="#000" stroke-width="1"/>
<line x1="742" y1="325.77" x2="730.6" y2="325.77" stroke="#000" stroke-width="1"/>
<line x1="91" y1="320.34" x2="102.4" y2="320.34" stroke="#000" stroke-width="1"/>
<line x1="742" y1="320.34" x2="730.6" y2="320.34" stroke="#000" stroke-width="1"/>
<line x1="91" y1="315.48" x2="113.5" y2="315.48" stroke="#000" stroke-width="1"/>
<line x1="742" y1="315.48" x2="719.5" y2="315.48" stroke="#000" stroke-width="1"/>
<line x1="91" y1="283.52" x2="102.4" y2="283.52" stroke="#000" stroke-width="1"/>
<line x1="742" y1="283.52" x2="730.6" y2="283.52" stroke="#000" stroke-width="1"/>
<line x1="91" y1="264.82" x2="102.4" y2="264.82" stroke="#000" stroke-width="1"/>
<line x1="742" y1="264.82" x2="730.6" y2="264.82" stroke="#000" stroke-width="1"/>
<line x1="91" y1="251.55" x2="102.4" y2="251.55" stroke="#000" stroke-width="1"/>
<line x1="742" y1="251.55" x2="730.6" y2="251.55" stroke="#000" stroke-width="1"/>
<line x1="91" y1="241.26" x2="102.4" y2="241.26" stroke="#000" stroke-width="1"/>
<line x1="742" y1="241.26" x2="730.6" y2="241.26" stroke="#000" stroke-width="1"/>
<line x1="91" y1="232.86" x2="102.4" y2="232.86" stroke="#000" stroke-width="1"/>
<line x1="742" y1="232.86" x2="730.6" y2="232.86" stroke="#000" stroke-width="1"/>
<line x1="91" y1="225.75" x2="102.4" y2="225.75" stroke="#000" stroke-width="1"/>
<line x1="742" y1="225.75" x2="730.6" y2="225.75" stroke="#000" stroke-width="1"/>
<line x1="91" y1="219.59" x2="102.4" y2="219.59" stroke="#000" stroke-width="1"/>
<line x1="742" y1="219.59" x2="730.6" y2="219.59" stroke="#000" stroke-width="1"/>
<line x1="91" y1="214.16" x2="102.4" y2="214.16" stroke="#000" stroke-width="1"/>
<line x1="742" y1="214.16" x2="730.6" y2="214.16" stroke="#000" stroke-width="1"/>
<line x1="91" y1="209.3" x2="113.5" y2="209.3" stroke="#000" stroke-width="1"/>
<line x1="742" y1="209.3" x2="719.5" y2="209.3" stroke="#000" stroke-width="1"/>
<line x1="91" y1="177.34" x2="102.4" y2="177.34" stroke="#000" stroke-width="1"/>
<line x1="742" y1="177.34" x2="730.6" y2="177.34" stroke="#000" stroke-width="1"/>
<line x1="91" y1="158.64" x2="102.4" y2="158.64" stroke="#000" stroke-width="1"/>
<line x1="742" y1="158.64" x2="730.6" y2="158.64" stroke="#000" stroke-width="1"/>
<line x1="91" y1="145.37" x2="102.4" y2="145.37" stroke="#000" stroke-width="1"/>
<line x1="742" y1="145.37" x2="730.6" y2="145.37" stroke="#000" stroke-width="1"/>
<line x1="91" y1="135.08" x2="102.4" y2="135.08" stroke="#000" stroke-width="1"/>
<line x1="742" y1="135.08" x2="730.6" y2="135.08" stroke="#000" stroke-width="1"/>
<line x1="91" y1="126.68" x2="102.4" y2="126.68" stroke="#000" stroke-width="1"/>
<line x1="742" y1="126.68" x2="730.6" y2="126.68" stroke="#000" stroke-width="1"/>
<line x1="91" y1="119.57" x2="102.4" y2="119.57" stroke="#000" stroke-width="1"/>
<line x1="742" y1="119.57" x2="730.6" y2="119.57" stroke="#000" stroke-width="1"/>
<line x1="91" y1="113.41" x2="102.4" y2="113.41" stroke="#000" stroke-width="1"/>
<line x1="742" y1="113.41" x2="730.6" y2="113.41" stroke="#000" stroke-width="1"/>
<line x1="91" y1="107.98" x2="102.4" y2="107.98" stroke="#000" stroke-width="1"/>
<line x1="742" y1="107.98" x2="730.6" y2="107.98" stroke="#000" stroke-width="1"/>
<line x1="91" y1="103.12" x2="113.5" y2="103.12" stroke="#000" stroke-width="1"/>
<line x1="742" y1="103.12" x2="719.5" y2="103.12" stroke="#000" stroke-width="1"/>
<line x1="91" y1="71.16" x2="102.4" y2="71.16" stroke="#000" stroke-width="1"/>
<line x1="742" y1="71.16" x2="730.6" y2="71.16" stroke="#000" stroke-width="1"/>
<line x1="91" y1="52.46" x2="102.4" y2="52.46" stroke="#000" stroke-width="1"/>
<line x1="742" y1="52.46" x2="730.6" y2="52.46" stroke="#000" stroke-width="1"/>
<line x1="91" y1="39.19" x2="102.4" y2="39.19" stroke="#000" stroke-width="1"/>
<line x1="742" y1="39.19" x2="730.6" y2="39.19" stroke="#000" stroke-width="1"/>
<line x1="91" y1="916.96" x2="105" y2="916.96" stroke="#000" stroke-width="1"/>
<line x1="742" y1="916.96" x2="728" y2="916.96" stroke="#000" stroke-width="1"/>
<line x1="91" y1="884.98" x2="100.5" y2="884.98" stroke="#000" stroke-width="1"/>
<line x1="742" y1="884.98" x2="732.5" y2="884.98" stroke="#000" stroke-width="1"/>
<line x1="91" y1="857.95" x2="100.5" y2="857.95" stroke="#000" stroke-width="1"/>
<line x1="742" y1="857.95" x2="732.5" y2="857.95" stroke="#000" stroke-width="1"/>
<line x1="91" y1="834.53" x2="100.5" y2="834.53" stroke="#000" stroke-width="1"/>
<line x1="742" y1="834.53" x2="732.5" y2="834.53" stroke="#000" stroke-width="1"/>
<line x1="91" y1="813.88" x2="100.5" y2="813.88" stroke="#000" stroke-width="1"/>
<line x1="742" y1="813.88" x2="732.5" y2="813.88" stroke="#000" stroke-width="1"/>
<line x1="91" y1="795.4" x2="105" y2="795.4" stroke="#000" stroke-width="1"/>
<line x1="742" y1="795.4" x2="728" y2="795.4" stroke="#000" stroke-width="1"/>
<line x1="91" y1="778.69" x2="100.5" y2="778.69" stroke="#000" stroke-width="1"/>
<line x1="742" y1="778.69" x2="732.5" y2="778.69" stroke="#000" stroke-width="1"/>
<line x1="91" y1="763.43" x2="100.5" y2="763.43" stroke="#000" stroke-width="1"/>
<line x1="742" y1="763.43" x2="732.5" y2="763.43" stroke="#000" stroke-width="1"/>
<line x1="91" y1="749.39" x2="100.5" y2="749.39" stroke="#000" stroke-width="1"/>
<line x1="742" y1="749.39" x2="732.5" y2="749.39" stroke="#000" stroke-width="1"/>
<line x1="91" y1="736.39" x2="100.5" y2="736.39" stroke="#000" stroke-width="1"/>
<line x1="742" y1="736.39" x2="732.5" y2="736.39" stroke="#000" stroke-width="1"/>
<line x1="91" y1="724.29" x2="105" y2="724.29" stroke="#000" stroke-width="1"/>
<line x1="742" y1="724.29" x2="728" y2="724.29" stroke="#000" stroke-width="1"/>
<line x1="91" y1="712.98" x2="100.5" y2="712.98" stroke="#000" stroke-width="1"/>
<line x1="742" y1="712.98" x2="732.5" y2="712.98" stroke="#000" stroke-width="1"/>
<line x1="91" y1="702.34" x2="100.5" y2="702.34" stroke="#000" stroke-width="1"/>
<line x1="742" y1="702.34" x2="732.5" y2="702.34" stroke="#000" stroke-width="1"/>
<line x1="91" y1="692.32" x2="100.5" y2="692.32" stroke="#000" stroke-width="1"/>
<line x1="742" y1="692.32" x2="732.5" y2="692.32" stroke="#000" stroke-width="1"/>
<line x1="91" y1="682.84" x2="100.5" y2="682.84" stroke="#000" stroke-width="1"/>
<line x1="742" y1="682.84" x2="732.5" y2="682.84" stroke="#000" stroke-width="1"/>
<line x1="91" y1="673.84" x2="105" y2="673.84" stroke="#000" stroke-width="1"/>
<line x1="742" y1="673.84" x2="728" y2="673.84" stroke="#000" stroke-width="1"/>
<line x1="91" y1="665.29" x2="100.5" y2="665.29" stroke="#000" stroke-width="1"/>
<line x1="742" y1="665.29" x2="732.5" y2="665.29" stroke="#000" stroke-width="1"/>
<line x1="91" y1="657.13" x2="100.5" y2="657.13" stroke="#000" stroke-width="1"/>
<line x1="742" y1="657.13" x2="732.5" y2="657.13" stroke="#000" stroke-width="1"/>
<line x1="91" y1="649.33" x2="100.5" y2="649.33" stroke="#000" stroke-width="1"/>
<line x1="742" y1="649.33" x2="732.5" y2="649.33" stroke="#000" stroke-width="1"/>
<line x1="91" y1="641.87" x2="100.5" y2="641.87" stroke="#000" stroke-width="1"/>
<line x1="742" y1="641.87" x2="732.5" y2="641.87" stroke="#000" stroke-width="1"/>
<line x1="91" y1="634.71" x2="100.5" y2="634.71" stroke="#000" stroke-width="1"/>
<line x1="742" y1="634.71" x2="732.5" y2="634.71" stroke="#000" stroke-width="1"/>
<rect x="91" y="35" width="651" height="599.6" fill="none" stroke="#000" stroke-width="2"/>
<rect x="91" y="634.6" width="651" height="321.4" fill="none" stroke="#000" stroke-width="2"/>
<text x="103.16" y="29" font-size="25.3" fill="#000" textLength="155.65" lengthAdjust="spacingAndGlyphs">13000 GeV pp</text>
<text x="669.53" y="29" font-size="25.3" fill="#000" textLength="61.14" lengthAdjust="spacingAndGlyphs">Z+Jet</text>
<text x="148.66" y="85" font-size="24.9" fill="#000" textLength="290.26" lengthAdjust="spacingAndGlyphs">Transverse region, 200 &lt; p</text>
<text x="432.2" y="73.7" font-size="16.8" fill="#000" textLength="9.59" lengthAdjust="spacingAndGlyphs">Z</text>
<text x="432.15" y="96.8" font-size="16.8" fill="#000" textLength="9.51" lengthAdjust="spacingAndGlyphs">T</text>
<text x="448.8" y="85" font-size="24.9" fill="#000" textLength="236.47" lengthAdjust="spacingAndGlyphs">&lt; 500 [GeV], inclusive</text>
<text x="55.6" y="111.8" font-size="22.4" fill="#000" textLength="23.43" lengthAdjust="spacingAndGlyphs">10</text>
<text x="71.89" y="216.6" font-size="22.4" fill="#000" textLength="8.13" lengthAdjust="spacingAndGlyphs">1</text>
<text x="41.59" y="326" font-size="22.4" fill="#000" textLength="23.54" lengthAdjust="spacingAndGlyphs">10</text><text x="64.64" y="315.7" font-size="14.2" fill="#000" textLength="9.02" lengthAdjust="spacingAndGlyphs">−</text><text x="74.26" y="315.7" font-size="14.2" fill="#000" textLength="5.42" lengthAdjust="spacingAndGlyphs">1</text>
<text x="38.35" y="431.8" font-size="22.4" fill="#000" textLength="24.1" lengthAdjust="spacingAndGlyphs">10</text><text x="61.78" y="422.7" font-size="14.2" fill="#000" textLength="8.53" lengthAdjust="spacingAndGlyphs">−</text><text x="70.14" y="422.7" font-size="14.2" fill="#000" textLength="9.52" lengthAdjust="spacingAndGlyphs">2</text>
<text x="38.35" y="539" font-size="22.4" fill="#000" textLength="24.1" lengthAdjust="spacingAndGlyphs">10</text><text x="61.78" y="528.1" font-size="14.2" fill="#000" textLength="8.53" lengthAdjust="spacingAndGlyphs">−</text><text x="70.51" y="528.1" font-size="14.2" fill="#000" textLength="8.68" lengthAdjust="spacingAndGlyphs">3</text>
<clipPath id="c4"><rect x="0" y="0" width="90" height="635.6"/></clipPath>
<g clip-path="url(#c4)"><text x="38.35" y="645" font-size="22.4" fill="#000" textLength="24.1" lengthAdjust="spacingAndGlyphs">10</text><text x="61.78" y="634.6" font-size="14.2" fill="#000" textLength="8.53" lengthAdjust="spacingAndGlyphs">−</text><text x="70.75" y="634.6" font-size="14.2" fill="#000" textLength="8.5" lengthAdjust="spacingAndGlyphs">4</text></g>
<text x="63.34" y="682.6" font-size="23.2" fill="#000" textLength="13.92" lengthAdjust="spacingAndGlyphs">2</text>
<text x="67.29" y="804.5" font-size="23.2" fill="#000" textLength="8.13" lengthAdjust="spacingAndGlyphs">1</text>
<text x="44.91" y="924.7" font-size="23.2" fill="#000" textLength="31.54" lengthAdjust="spacingAndGlyphs">0.5</text>
<text x="747.32" y="682.5" font-size="23.2" fill="#000" textLength="14.16" lengthAdjust="spacingAndGlyphs">2</text>
<text x="749.59" y="804.6" font-size="23.2" fill="#000" textLength="8.13" lengthAdjust="spacingAndGlyphs">1</text>
<text x="748.19" y="924" font-size="23.2" fill="#000" textLength="32.28" lengthAdjust="spacingAndGlyphs">0.5</text>
<text x="236.87" y="978" font-size="23.5" fill="#000" textLength="8.26" lengthAdjust="spacingAndGlyphs">1</text>
<text x="484.83" y="978" font-size="23.5" fill="#000" textLength="14.04" lengthAdjust="spacingAndGlyphs">2</text>
<text x="735.57" y="978" font-size="23.5" fill="#000" textLength="13.61" lengthAdjust="spacingAndGlyphs">3</text>
<text x="576.92" y="1002.9" font-size="25.8" fill="#000" textLength="84.44" lengthAdjust="spacingAndGlyphs">Mean p</text>
<text x="659.44" y="1016.6" font-size="18.3" fill="#000" textLength="9.72" lengthAdjust="spacingAndGlyphs">T</text>
<text x="669.3" y="1002.9" font-size="25.8" fill="#000" textLength="21.78" lengthAdjust="spacingAndGlyphs">/d</text>
<text x="689.89" y="1002.9" font-size="25.8" fill="#000" font-family="Liberation Serif" textLength="16.2" lengthAdjust="spacingAndGlyphs">η</text>
<text x="711.78" y="1002.9" font-size="25.8" fill="#000" textLength="13.48" lengthAdjust="spacingAndGlyphs">d</text>
<text x="723.42" y="1002.9" font-size="25.8" fill="#000" font-family="Liberation Serif" textLength="12.67" lengthAdjust="spacingAndGlyphs">ϕ</text>
<g transform="translate(31.4,331.8) rotate(-90)">
<text x="-1.81" y="0" font-size="24.9" fill="#000" textLength="36.94" lengthAdjust="spacingAndGlyphs">1/N</text>
<text x="35.18" y="5.8" font-size="16.6" fill="#000" textLength="15.47" lengthAdjust="spacingAndGlyphs">ev</text>
<text x="56.91" y="0" font-size="24.9" fill="#000" textLength="33.1" lengthAdjust="spacingAndGlyphs">dN</text>
<text x="87.38" y="5.8" font-size="16.6" fill="#000" textLength="15.47" lengthAdjust="spacingAndGlyphs">ev</text>
<text x="104.1" y="0" font-size="24.9" fill="#000" textLength="6.3" lengthAdjust="spacingAndGlyphs">/</text>
<text x="110.68" y="0" font-size="24.9" fill="#000" textLength="101.04" lengthAdjust="spacingAndGlyphs">d mean p</text>
<text x="210.84" y="12.3" font-size="16.8" fill="#000" textLength="9.83" lengthAdjust="spacingAndGlyphs">T</text>
<text x="226.87" y="0" font-size="24.9" fill="#000" textLength="62.06" lengthAdjust="spacingAndGlyphs">[GeV]</text>
<text x="284.49" y="-12.6" font-size="14.2" fill="#000" textLength="6.01" lengthAdjust="spacingAndGlyphs">−</text>
<text x="291.13" y="-12.6" font-size="14.2" fill="#000" textLength="6.32" lengthAdjust="spacingAndGlyphs">1</text>
</g>
<g transform="translate(36.1,854.0) rotate(-90)">
<text x="-1.46" y="0" font-size="18.9" fill="#000" textLength="123.08" lengthAdjust="spacingAndGlyphs">Ratio to ATLAS</text>
</g>
<g transform="translate(760.4,253.2) rotate(-90)">
<text x="-1.55" y="0" font-size="19" fill="#7a7a7a" textLength="218.74" lengthAdjust="spacingAndGlyphs">Rivet 4.1.0, ≥ 100k events</text>
</g>
<g transform="translate(762.0,627.8) rotate(-90)">
<text x="-1.26" y="0" font-size="19.2" fill="#7a7a7a" textLength="286.41" lengthAdjust="spacingAndGlyphs">mcplots.cern.ch [arXiv:1306.3436]</text>
</g>
<text x="325.82" y="603.8" font-size="16.3" fill="#9a9a9a" textLength="178.86" lengthAdjust="spacingAndGlyphs">(ATLAS_2019_I1736531)</text>
<rect x="147.7" y="481.8" width="11" height="11" fill="#000"/>
<line x1="128.8" y1="513" x2="177.2" y2="513" stroke="#0000e6" stroke-width="1.6"/>
<path d="M147.7 518.6L153.1 507.8L158.5 518.6Z" fill="#0000e6"/>
<line x1="128.8" y1="539.3" x2="177.2" y2="539.3" stroke="#8080b8" stroke-width="1.05"/>
<path d="M147.7 544.6L153.1 533.8L158.5 544.6Z" fill="#8080b8"/>
<text x="187.56" y="492.9" font-size="20.1" fill="#000" textLength="59.9" lengthAdjust="spacingAndGlyphs">ATLAS</text>
<text x="186.44" y="519" font-size="19.6" fill="#000" textLength="168.4" lengthAdjust="spacingAndGlyphs">Pythia 8.230 default</text>
<text x="186.44" y="545.1" font-size="19.6" fill="#000" textLength="223.45" lengthAdjust="spacingAndGlyphs">Pythia 8.230 default-noCR</text>
</svg></body></html>
